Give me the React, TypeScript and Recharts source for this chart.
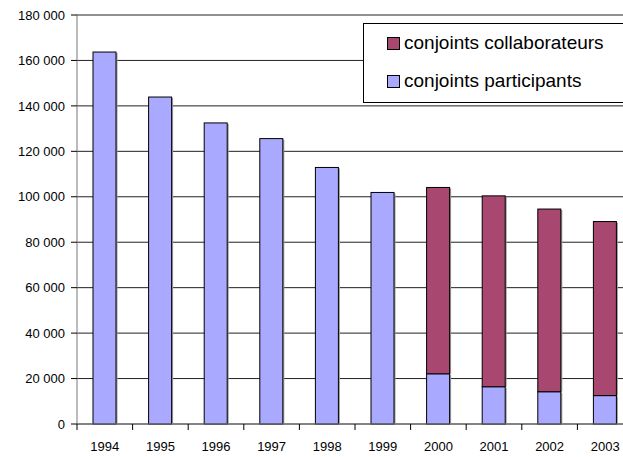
import { Bar, BarChart, CartesianGrid, Legend, XAxis, YAxis } from "recharts";

const years = ["1994", "1995", "1996", "1997", "1998", "1999", "2000", "2001", "2002", "2003"];
const participants = [163700, 143900, 132500, 125600, 112900, 101900, 22100, 16400, 14200, 12500];
const collaborateurs = [null, null, null, null, null, null, 82000, 84000, 80400, 76600];
const yTicks = [0, 20000, 40000, 60000, 80000, 100000, 120000, 140000, 160000, 180000];

const PARTICIPANTS_COLOR = "#a9a9ff";
const COLLAB_COLOR = "#a8476f";
const FONT = "'Liberation Sans', Arial, sans-serif";

const data = years.map((year, i) => ({
  year,
  participants: participants[i],
  collaborateurs: collaborateurs[i],
}));

const fmt = (v: number) => String(v).replace(/\B(?=(\d{3})+(?!\d))/g, " ");

// bar with the faint grey drop shadow on its right side
function ShadowBar(props: any) {
  const { x, y, width, height, fill } = props;
  if (!height || height <= 0) return null;
  return (
    <g>
      <rect x={x + width} y={y + 1} width={1.5} height={height - 1} fill="#9a9a9a" />
      <rect x={x} y={y} width={width} height={height} fill={fill} stroke="#000" strokeWidth={1} />
    </g>
  );
}

function YearTick(props: any) {
  const { x, y, payload } = props;
  const axisY = y - 10;
  const edge = x - (payload.offset ?? 27.8);
  return (
    <g>
      <line x1={edge} x2={edge} y1={axisY} y2={axisY + 6} stroke="#000" />
      <text x={x} y={axisY + 27} textAnchor="middle" fontSize={13} fill="#000" fontFamily={FONT}>
        {payload.value}
      </text>
    </g>
  );
}

function LegendBox() {
  const items = [
    { label: "conjoints collaborateurs", color: COLLAB_COLOR },
    { label: "conjoints participants", color: PARTICIPANTS_COLOR },
  ];
  return (
    <div style={{ fontFamily: FONT, fontSize: 19, color: "#000" }}>
      {items.map((it, i) => (
        <div
          key={it.label}
          style={{ position: "absolute", left: 23, top: i === 0 ? 8 : 46, display: "flex", alignItems: "center", whiteSpace: "nowrap" }}
        >
          <span
            style={{ display: "inline-block", width: 11, height: 11, background: it.color, border: "1px solid #000", marginRight: 4 }}
          />
          <span>{it.label}</span>
        </div>
      ))}
    </div>
  );
}

export default function App() {
  return (
    <div style={{ position: "fixed", left: 0, top: 0, width: 623, height: 457, overflow: "hidden", background: "#fff" }}>
      <BarChart width={640} height={457} data={data} margin={{ top: 15, right: 7, bottom: 0, left: 0 }} barSize={23}>
        <CartesianGrid vertical={false} stroke="#222" />
        <XAxis
          dataKey="year"
          height={33}
          tickSize={6}
          tickMargin={4}
          tickLine={false}
          axisLine={{ stroke: "#777" }}
          tick={<YearTick />}
          interval={0}
        />
        <YAxis
          width={77}
          domain={[0, 180000]}
          ticks={yTicks}
          tickFormatter={fmt}
          tickSize={6}
          tickMargin={6}
          axisLine={{ stroke: "#777" }}
          tickLine={{ stroke: "#000" }}
          tick={{ fill: "#000", fontSize: 13, fontFamily: FONT }}
          interval={0}
        />
        <Legend
          layout="vertical"
          align="center"
          verticalAlign="middle"
          content={<LegendBox />}
          wrapperStyle={{
            position: "absolute",
            left: 363,
            top: 23,
            width: 280,
            height: 78,
            border: "1px solid #000",
            background: "#fff",
          }}
        />
        <Bar dataKey="participants" stackId="a" fill={PARTICIPANTS_COLOR} shape={<ShadowBar />} isAnimationActive={false} />
        <Bar dataKey="collaborateurs" stackId="a" fill={COLLAB_COLOR} shape={<ShadowBar />} isAnimationActive={false} />
      </BarChart>
    </div>
  );
}
